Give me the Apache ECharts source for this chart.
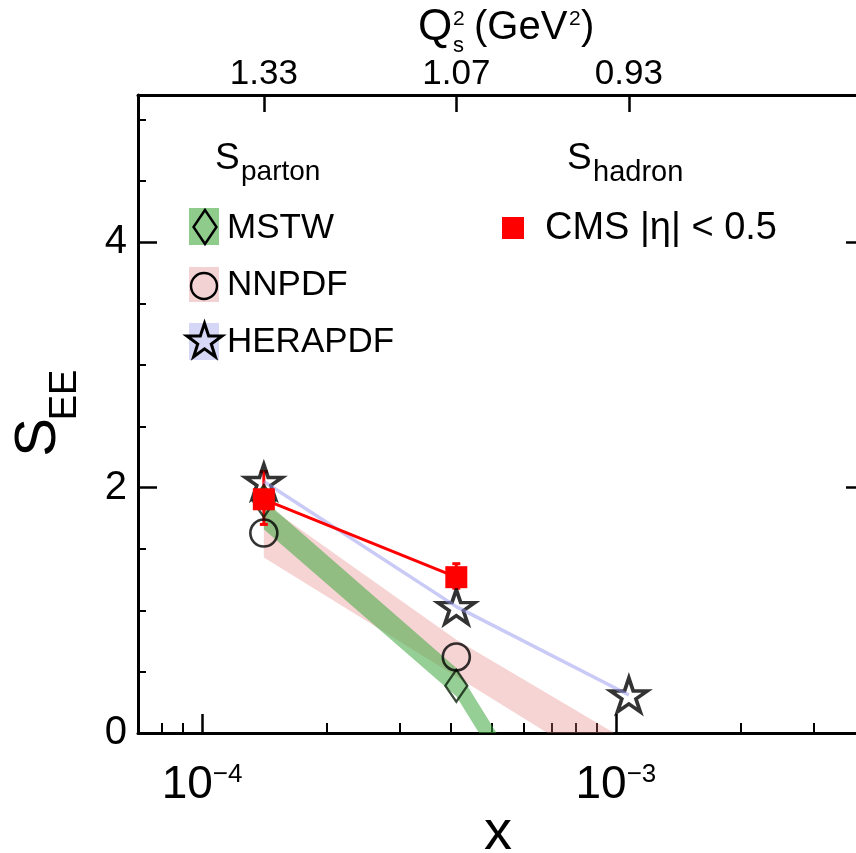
<!DOCTYPE html>
<html><head><meta charset="utf-8">
<script src="https://cdn.jsdelivr.net/npm/echarts@6/dist/echarts.min.js"></script>
<style>html,body{margin:0;padding:0;background:#fff}#c{width:856px;height:853px}</style>
</head><body><div id="c"></div>
<script>
// ---- data ----
const X_MIN = 7e-5, X_MAX = 4e-3, Y_MIN = 0, Y_MAX = 5.2;
const xValues = [1.41e-4, 4.115e-4, 1.075e-3];
const qs2Labels = ['1.33', '1.07', '0.93'];
const mstwCentral = [1.89, 0.385];
const mstwLow = [1.66, 0.30, -1.98];
const mstwHigh = [1.90, 0.53, -1.74];
const nnpdfCentral = [1.63, 0.62];
const nnpdfLow = [1.43, 0.46, -0.41];
const nnpdfHigh = [1.87, 0.76, -0.07];
const heraCentral = [2.05, 1.03, 0.31];
const cmsValues = [1.905, 1.27];
const cmsErrLow = [1.70, 1.18];
const cmsErrHigh = [2.13, 1.38];
const xMajorTicks = [1e-4, 1e-3];
const xMinorTicks = [8e-5, 9e-5, 2e-4, 3e-4, 4e-4, 5e-4, 6e-4, 7e-4, 8e-4, 9e-4, 2e-3, 3e-3];
const yMajorTicks = [0, 2, 4];
const yMinorTicks = [0.5, 1, 1.5, 2.5, 3, 3.5, 4.5, 5];

// ---- styling ----
const FONT = 'Liberation Sans, Arial, Helvetica, sans-serif';
const LOG_MIN = Math.log10(X_MIN), LOG_MAX = Math.log10(X_MAX);
const lineBlack = {color: '#000', width: 3};
const STAR = 'path://M0,-100L22.45,-30.9L95.1,-30.9L36.33,11.8L58.78,80.9L0,38.2L-58.78,80.9L-36.33,11.8L-95.1,-30.9L-22.45,-30.9Z';

function logs(arr) { return arr.map(v => Math.log10(v)); }

function bandSeries(low, high, color) {
  return {
    type: 'custom', xAxisIndex: 0, yAxisIndex: 0, clip: true, silent: true,
    data: xValues.map((x, i) => [x, low[i], high[i]]),
    renderItem: function (params, api) {
      if (params.dataIndex !== 0) return null;
      const pts = [];
      for (let i = 0; i < xValues.length; i++) pts.push(api.coord([xValues[i], high[i]]));
      for (let i = xValues.length - 1; i >= 0; i--) pts.push(api.coord([xValues[i], low[i]]));
      return {type: 'polygon', shape: {points: pts}, style: {fill: color}};
    }
  };
}

function starPoints(cx, cy, R, r) {
  const pts = [];
  for (let k = 0; k < 10; k++) {
    const a = -Math.PI / 2 + k * Math.PI / 5;
    const rad = k % 2 ? r : R;
    pts.push([cx + rad * Math.cos(a), cy + rad * Math.sin(a)]);
  }
  return pts;
}

function txt(text, x, y, size, extra) {
  return Object.assign({
    type: 'text', x: x, y: y, silent: true,
    style: {text: text, fill: '#000', fontSize: size, fontFamily: FONT, align: 'left', verticalAlign: 'middle'}
  }, extra || {});
}

const chart = echarts.init(document.getElementById('c'), null, {renderer: 'canvas', width: 856, height: 853});

const option = {
  animation: false,
  backgroundColor: '#fff',
  grid: {left: 138, right: -9, top: 95, bottom: 120, containLabel: false, outerBoundsMode: 'none'},
  xAxis: [
    {type: 'log', logBase: 10, min: X_MIN, max: X_MAX, position: 'bottom',
     axisLine: {show: true, onZero: false, lineStyle: lineBlack},
     axisTick: {show: false}, axisLabel: {show: false}, splitLine: {show: false}, minorTick: {show: false}},
    {type: 'value', min: LOG_MIN, max: LOG_MAX, position: 'bottom',
     axisLine: {show: false, onZero: false},
     axisTick: {show: true, inside: true, length: 19, lineStyle: {color: '#000', width: 2.5}, customValues: logs(xMajorTicks)},
     axisLabel: {show: true, customValues: logs(xMajorTicks), margin: 29,
       formatter: v => '{b|10}{s|\u2212' + (-Math.round(v)) + '}',
       rich: {
         b: {fontSize: 46, lineHeight: 46, fontFamily: FONT, color: '#000'},
         s: {fontSize: 26, lineHeight: 26, fontFamily: FONT, color: '#000', verticalAlign: 'top'}
       }},
     splitLine: {show: false}},
    {type: 'value', min: LOG_MIN, max: LOG_MAX, position: 'bottom',
     axisLine: {show: false, onZero: false},
     axisTick: {show: true, inside: true, length: 10, lineStyle: {color: '#000', width: 2}, customValues: logs(xMinorTicks)},
     axisLabel: {show: false}, splitLine: {show: false}},
    {type: 'value', min: LOG_MIN, max: LOG_MAX, position: 'top',
     axisLine: {show: true, onZero: false, lineStyle: lineBlack},
     axisTick: {show: true, inside: true, length: 17, lineStyle: {color: '#000', width: 2.5}, customValues: logs(xValues)},
     axisLabel: {show: true, customValues: logs(xValues), margin: 3, fontSize: 35, fontFamily: FONT, color: '#000',
       formatter: v => {
         const lv = logs(xValues); let best = 0;
         for (let i = 1; i < lv.length; i++) if (Math.abs(lv[i] - v) < Math.abs(lv[best] - v)) best = i;
         return qs2Labels[best];
       }},
     splitLine: {show: false}}
  ],
  yAxis: [
    {type: 'value', min: Y_MIN, max: Y_MAX, position: 'left',
     axisLine: {show: true, onZero: false, lineStyle: lineBlack},
     axisTick: {show: true, inside: true, length: 19, lineStyle: {color: '#000', width: 2.5}, customValues: yMajorTicks},
     axisLabel: {show: true, customValues: yMajorTicks, margin: 11, fontSize: 40, fontFamily: FONT, color: '#000'},
     splitLine: {show: false}},
    {type: 'value', min: Y_MIN, max: Y_MAX, position: 'left',
     axisLine: {show: false, onZero: false},
     axisTick: {show: true, inside: true, length: 8, lineStyle: {color: '#000', width: 2}, customValues: yMinorTicks},
     axisLabel: {show: false}, splitLine: {show: false}},
    {type: 'value', min: Y_MIN, max: Y_MAX, position: 'right',
     axisLine: {show: true, onZero: false, lineStyle: lineBlack},
     axisTick: {show: true, inside: true, length: 19, lineStyle: {color: '#000', width: 2.5}, customValues: yMajorTicks},
     axisLabel: {show: false}, splitLine: {show: false}},
    {type: 'value', min: Y_MIN, max: Y_MAX, position: 'right',
     axisLine: {show: false, onZero: false},
     axisTick: {show: true, inside: true, length: 8, lineStyle: {color: '#000', width: 2}, customValues: yMinorTicks},
     axisLabel: {show: false}, splitLine: {show: false}}
  ],
  series: [
    bandSeries(nnpdfLow, nnpdfHigh, 'rgba(226,120,120,0.32)'),
    bandSeries(mstwLow, mstwHigh, 'rgba(62,168,62,0.55)'),
    {type: 'line', name: 'HERAPDF band', xAxisIndex: 0, yAxisIndex: 0, silent: true,
     data: xValues.map((x, i) => [x, heraCentral[i]]), symbol: 'none',
     lineStyle: {color: 'rgba(150,150,240,0.5)', width: 3.5}},
    {type: 'scatter', name: 'MSTW', xAxisIndex: 0, yAxisIndex: 0, silent: true,
     data: mstwCentral.map((y, i) => [xValues[i], y]), symbol: 'diamond', symbolSize: [22, 32],
     itemStyle: {color: 'rgba(0,0,0,0)', borderColor: '#0a1f0a', borderWidth: 2.4}},
    {type: 'scatter', name: 'NNPDF', xAxisIndex: 0, yAxisIndex: 0, silent: true,
     data: nnpdfCentral.map((y, i) => [xValues[i], y]), symbol: 'circle', symbolSize: 27,
     itemStyle: {color: 'rgba(0,0,0,0)', borderColor: '#000', borderWidth: 2.6}},
    {type: 'scatter', name: 'HERAPDF', xAxisIndex: 0, yAxisIndex: 0, silent: true,
     data: heraCentral.map((y, i) => [xValues[i], y]), symbol: STAR, symbolSize: [37, 34],
     itemStyle: {color: 'rgba(0,0,0,0)', borderColor: '#000', borderWidth: 3.6}},
    {type: 'custom', name: 'CMS errors', xAxisIndex: 0, yAxisIndex: 0, silent: true,
     data: cmsValues.map((y, i) => [xValues[i], cmsErrLow[i], cmsErrHigh[i]]),
     renderItem: function (params, api) {
       const lo = api.coord([api.value(0), api.value(1)]);
       const hi = api.coord([api.value(0), api.value(2)]);
       const st = {stroke: '#ff0000', lineWidth: 3};
       return {type: 'group', children: [
         {type: 'line', shape: {x1: lo[0], y1: lo[1], x2: hi[0], y2: hi[1]}, style: st},
         {type: 'line', shape: {x1: hi[0] - 4, y1: hi[1], x2: hi[0] + 4, y2: hi[1]}, style: st},
         {type: 'line', shape: {x1: lo[0] - 4, y1: lo[1], x2: lo[0] + 4, y2: lo[1]}, style: st}
       ]};
     }},
    {type: 'line', name: 'CMS', xAxisIndex: 0, yAxisIndex: 0, silent: true,
     data: cmsValues.map((y, i) => [xValues[i], y]), symbol: 'rect', symbolSize: 22, showSymbol: true,
     lineStyle: {color: '#ff0000', width: 3}, itemStyle: {color: '#ff0000'}}
  ],
  graphic: [
    // top axis title Q_s^2 (GeV^2)
    txt('Q', 418, 28, 44),
    txt('2', 453, 19, 21),
    txt('s', 453, 46, 22),
    txt('(GeV', 474, 28, 40),
    txt('2', 569, 19, 21),
    txt(')', 581, 28, 40),
    // y axis title S_EE
    txt('S', 38.5, 437.5, 58, {rotation: Math.PI / 2, style: {text: 'S', fill: '#000', fontSize: 58, fontFamily: FONT, align: 'center', verticalAlign: 'middle'}}),
    txt('EE', 66, 395, 38, {rotation: Math.PI / 2, style: {text: 'EE', fill: '#000', fontSize: 38, fontFamily: FONT, align: 'center', verticalAlign: 'middle'}}),
    // x axis title
    txt('x', 498, 834, 56, {style: {text: 'x', fill: '#000', fontSize: 56, fontFamily: FONT, align: 'center', verticalAlign: 'middle'}}),
    // legend: S_parton
    txt('S', 215, 159, 37),
    txt('parton', 241, 172.5, 28),
    {type: 'rect', silent: true, shape: {x: 189, y: 208, width: 30, height: 37}, style: {fill: '#8fcb8b'}},
    {type: 'polygon', silent: true, shape: {points: [[205, 210], [216.5, 227], [205, 244], [193.5, 227]]}, style: {fill: 'none', stroke: '#000', lineWidth: 2.4}},
    txt('MSTW', 227, 228, 35),
    {type: 'rect', silent: true, shape: {x: 189, y: 267, width: 30, height: 35}, style: {fill: '#f2d2d2'}},
    {type: 'circle', silent: true, shape: {cx: 204, cy: 286, r: 13}, style: {fill: 'none', stroke: '#000', lineWidth: 2.4}},
    txt('NNPDF', 227, 285, 35),
    {type: 'rect', silent: true, shape: {x: 189, y: 323, width: 30, height: 37}, style: {fill: '#d6d6f6'}},
    {type: 'polygon', silent: true, shape: {points: starPoints(204.5, 341.8, 18.5, 7.1)}, style: {fill: 'none', stroke: '#000', lineWidth: 3}},
    txt('HERAPDF', 227, 342, 35),
    // legend: S_hadron
    txt('S', 567, 159, 37),
    txt('hadron', 593, 172.5, 29),
    {type: 'rect', silent: true, shape: {x: 502, y: 217, width: 22, height: 22}, style: {fill: '#ff0000'}},
    txt('CMS |\u03b7| < 0.5', 545, 229, 38)
  ]
};
chart.setOption(option);
</script>
</body></html>
